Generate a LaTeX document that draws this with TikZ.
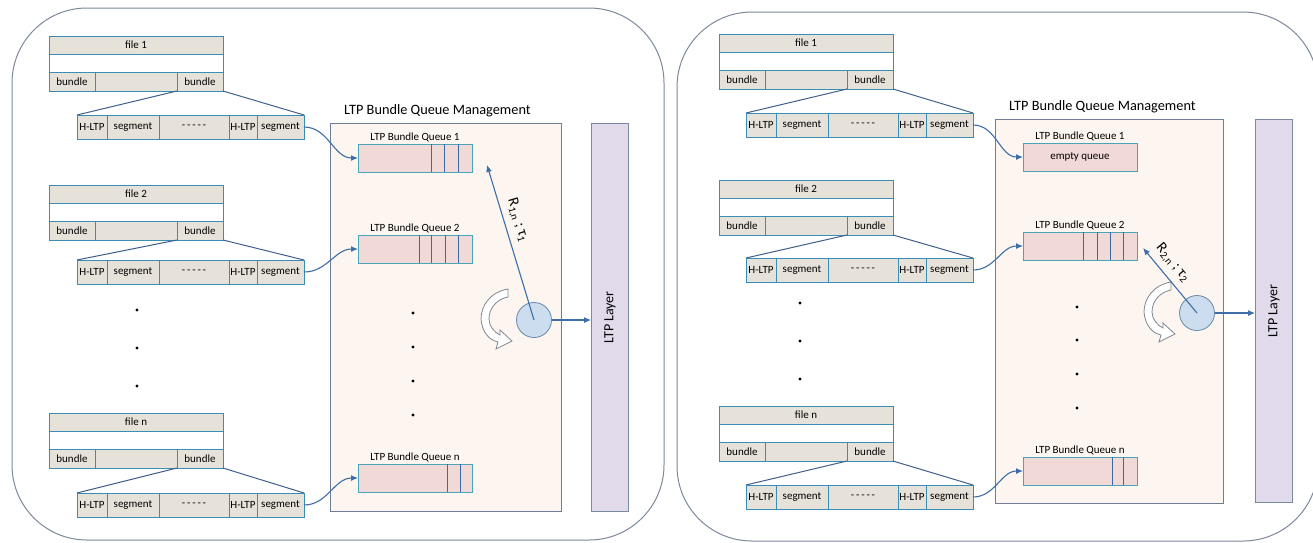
\documentclass[tikz,border=0pt]{standalone}
\usepackage{fontspec}
\setmainfont{Carlito}
\usetikzlibrary{arrows.meta,shadows}

\definecolor{cellfill}{HTML}{E6E2DA}
\definecolor{celledge}{HTML}{3A8DB4}
\definecolor{linkblue}{HTML}{3D6EA7}
\definecolor{fanblue}{HTML}{3F5F8E}
\definecolor{qfill}{HTML}{F1D9D8}
\definecolor{qedge}{HTML}{4AA4B8}
\definecolor{qline}{HTML}{3A69A6}
\definecolor{mgfill}{HTML}{FDF6F0}
\definecolor{mgedge}{HTML}{6E7E96}
\definecolor{layerfill}{HTML}{E1DAEA}
\definecolor{layeredge}{HTML}{7A87A5}
\definecolor{srvfill}{HTML}{CCDDEF}
\definecolor{srvedge}{HTML}{6A86A8}
\definecolor{panel}{HTML}{7D899B}
\definecolor{turnedge}{HTML}{7E8793}

\tikzset{
  x=1pt, y=-1pt,
  softshadow/.style={drop shadow={shadow xshift=.8pt, shadow yshift=-1.4pt, opacity=.28}},
  cell/.style={draw=celledge, line width=1pt, fill=cellfill, inner sep=0pt, outer sep=0pt,
    anchor=north west, minimum height=#1, font=\fontsize{11}{13}\selectfont, softshadow},
  fan/.style={draw=fanblue, line width=1pt},
  link/.style={draw=linkblue, line width=1.1pt, -{Latex[length=7pt,width=6pt]}},
  queue/.style={draw=qedge, line width=1pt, fill=qfill, inner sep=0pt, outer sep=0pt,
    anchor=north west, minimum width=114, minimum height=28, softshadow,
    font=\fontsize{11}{13}\selectfont},
  qlabel/.style={font=\fontsize{11}{13}\selectfont, inner sep=1pt},
  qdiv/.style={draw=qline, line width=1pt},
  mgbox/.style={draw=mgedge, line width=.8pt, fill=mgfill, anchor=north west, inner sep=0pt},
  mgtitle/.style={font=\fontsize{14.3}{16}\selectfont, anchor=south west, inner sep=0pt},
  layerbar/.style={draw=layeredge, line width=.8pt, fill=layerfill, anchor=north west, inner sep=0pt},
  layertext/.style={font=\fontsize{14}{16}\selectfont, rotate=90, inner sep=0pt},
  server/.style={circle, draw=srvedge, line width=.8pt, fill=srvfill, minimum size=35, inner sep=0pt},
  ratelabel/.style={font=\fontsize{15}{17}\selectfont, inner sep=1pt},
  turnarrow/.style={draw=turnedge, line width=.8pt, fill=white},
  panelbox/.style={draw=panel, line width=1pt, rounded corners=75pt},
  listdot/.style={fill=black},
}

% One file: title row, empty row, bundle row, and its segment row below
\newcommand\FileStack[6]{%
  \node[cell=18, minimum width=174] (#1t) at (#2,#3) {#4};
  \node[cell=18, minimum width=174, fill=white] (#1w) at (#2,#3+18) {};
  \node[cell=19, minimum width=46] (#1b1) at (#2,#3+36) {bundle};
  \node[cell=19, minimum width=82] (#1b2) at (#2+46,#3+36) {};
  \node[cell=19, minimum width=46] (#1b3) at (#2+128,#3+36) {bundle};
  \node[cell=24, minimum width=30] (#1s1) at (#5,#6) {H-LTP};
  \node[cell=24, minimum width=52] (#1s2) at (#5+30,#6) {segment};
  \node[cell=24, minimum width=70] (#1s3) at (#5+82,#6) {-\,-\,-\,-\,-};
  \node[cell=24, minimum width=28] (#1s4) at (#5+152,#6) {H-LTP};
  \node[cell=24, minimum width=47] (#1s5) at (#5+180,#6) {segment};
  \draw[fan] (#1b3.south west) -- (#1s1.north west);
  \draw[fan] (#1b3.south east) -- (#1s5.north east);
}

% One queue with its caption and the dividers of its stored bundles
\newcommand\BundleQueue[5]{%
  \node[queue] (#1) at (#2,#3) {};
  \node[qlabel, anchor=south] (#1cap) at ([yshift=1pt]#1.north) {#4};
  \foreach \d in {#5} {\draw[qdiv] ([xshift=\d pt]#1.north west) -- ([xshift=\d pt]#1.south west);}
}

% Hollow round arrow beside a server
\newcommand\TurnArrow[1]{%
  \draw[turnarrow, shift={(#1)}]
    (-26,-31) .. controls (-44,-28) and (-53,-14) .. (-53,-1)
    .. controls (-52,12) and (-45,20) .. (-36,22)
    -- (-38,29) -- (-22,21) -- (-34,10) -- (-34,15)
    .. controls (-40,12) and (-45,6) .. (-45,-1)
    .. controls (-45,-12) and (-37,-21) .. (-26,-23) -- cycle;
}

\begin{document}
\begin{tikzpicture}
\fill[white] (0,0) rectangle (1313,542);
\useasboundingbox (0,0) rectangle (1313,542);

% ---------------- first scheduler ----------------
\draw[panelbox] (12,8) rectangle (664,540);

\node[mgbox, minimum width=231, minimum height=388] (mgL) at (330,123) {};
\node[mgtitle] (mgLcap) at ([xshift=14pt,yshift=6pt]mgL.north west) {LTP Bundle Queue Management};
\node[layerbar, minimum width=37, minimum height=388] (layL) at (591,123) {};
\node[layertext] (layLcap) at (layL.center) {LTP Layer};

\FileStack{fA}{49}{36}{file 1}{77}{115}
\FileStack{fB}{49}{185}{file 2}{77}{260}
\FileStack{fN}{49}{413}{file n}{77}{493}

\BundleQueue{qA}{358}{144}{LTP Bundle Queue 1}{73,86,100}
\BundleQueue{qB}{358}{235}{LTP Bundle Queue 2}{61,73,87,100}
\BundleQueue{qN}{358}{464}{LTP Bundle Queue n}{89,102}

\foreach \yy in {310,348,386} \fill[listdot] (137,\yy) circle (1.7pt);
\foreach \yy in {313,347,381,415} \fill[listdot] (413,\yy) circle (1.7pt);

\draw[link] (fAs5.east) to[out=0,in=180] (qA.west);
\draw[link] (fBs5.east) to[out=0,in=180] (qB.west);
\draw[link] (fNs5.east) to[out=0,in=180] (qN.west);

\node[server] (srvL) at (534,320) {};
\TurnArrow{srvL.center}
\coordinate (tipL) at (487,165);
\draw[link] (srvL.center) -- (tipL)
  node[ratelabel, pos=.62, sloped, above=5pt] (rateL) {R\textsubscript{1,n} ; τ\textsubscript{1}};
\draw[link] (srvL.east) -- (srvL.east -| layL.west);

% ---------------- second scheduler ----------------
\draw[panelbox] (677,12) rectangle (1318,541);

\node[mgbox, minimum width=228, minimum height=384] (mgR) at (995,119) {};
\node[mgtitle] (mgRcap) at ([xshift=14pt,yshift=6pt]mgR.north west) {LTP Bundle Queue Management};
\node[layerbar, minimum width=37, minimum height=383] (layR) at (1255,119) {};
\node[layertext] (layRcap) at (layR.center) {LTP Layer};

\FileStack{gA}{719}{34}{file 1}{746}{113}
\FileStack{gB}{719}{180}{file 2}{746}{258}
\FileStack{gN}{719}{406}{file n}{746}{485}

\node[queue] (rA) at (1023,143) {empty queue};
\node[qlabel, anchor=south] (rAcap) at ([yshift=1pt]rA.north) {LTP Bundle Queue 1};
\BundleQueue{rB}{1023}{232}{LTP Bundle Queue 2}{60,74,87,100}
\BundleQueue{rN}{1023}{457}{LTP Bundle Queue n}{89,100}

\foreach \yy in {303,341,379} \fill[listdot] (800,\yy) circle (1.7pt);
\foreach \yy in {307,340,374,408} \fill[listdot] (1077,\yy) circle (1.7pt);

\draw[link] (gAs5.east) to[out=0,in=180] (rA.west);
\draw[link] (gBs5.east) to[out=0,in=180] (rB.west);
\draw[link] (gNs5.east) to[out=0,in=180] (rN.west);

\node[server] (srvR) at (1197,313) {};
\TurnArrow{srvR.center}
\coordinate (tipR) at (1143,248);
\draw[link] (srvR.center) -- (tipR)
  node[ratelabel, pos=.64, sloped, above=5pt] (rateR) {R\textsubscript{2,n} ; τ\textsubscript{2}};
\draw[link] (srvR.east) -- (srvR.east -| layR.west);
\end{tikzpicture}
\end{document}
